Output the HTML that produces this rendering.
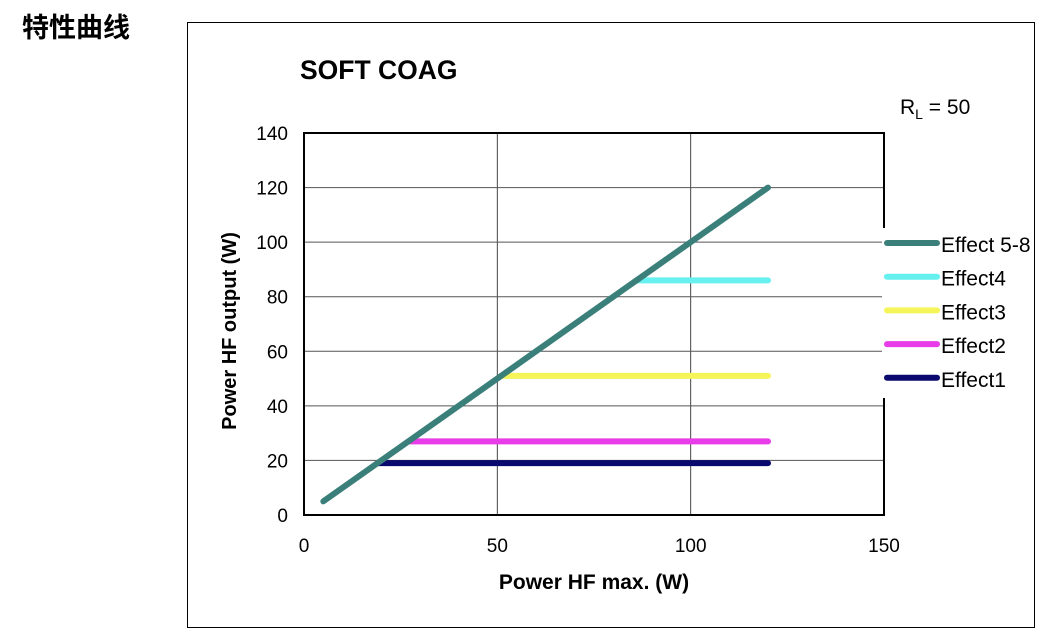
<!DOCTYPE html>
<html><head><meta charset="utf-8"><style>
body{margin:0;background:#fff;width:1053px;height:639px;overflow:hidden}
svg{display:block;font-family:"Liberation Sans","Noto Sans CJK SC",sans-serif}
</style></head><body>
<svg id="c" width="1053" height="639">
<text x="22" y="37" font-size="27" font-weight="bold">特性曲线</text>
<rect x="187.5" y="22.5" width="847" height="605" fill="none" stroke="#000" stroke-width="1"/>
<text x="300" y="79" font-size="26.5" font-weight="bold">SOFT COAG</text>
<text x="900" y="114" font-size="21">R<tspan font-size="14" dy="5">L</tspan><tspan dy="-5"> = 50</tspan></text>
<g id="grid"></g>
<g id="marks"></g>
<rect x="304" y="133" width="580" height="382" fill="none" stroke="#000" stroke-width="2"/>
<g id="axes"></g>
<text x="594" y="589" font-size="21" font-weight="bold" text-anchor="middle">Power HF max. (W)</text>
<text transform="translate(236,331) rotate(-90)" font-size="20" font-weight="bold" text-anchor="middle">Power HF output  (W)</text>
<rect x="882" y="228" width="150" height="170" fill="#fff"/>
<g id="legend"></g>
</svg>
<script>
const xTicks=[0,50,100,150];
const yTicks=[0,20,40,60,80,100,120,140];
const seriesNames=["Effect 5-8","Effect4","Effect3","Effect2","Effect1"];
const seriesColors=["#3a7f7a","#66f0f0","#f5f55a","#e83ce8","#0a0a6e"];
const diagX=[5,120];const diagY=[5,120];
const flatStart=[86,51,27,19];
const flatEnd=[120,120,120,120];
const flatLevel=[86,51,27,19];
const X=v=>304+v*580/150, Y=v=>515-v*382/140;
const NS="http://www.w3.org/2000/svg";
function mk(t,a,p){const e=document.createElementNS(NS,t);for(const k in a)e.setAttribute(k,a[k]);document.getElementById(p).appendChild(e);return e;}
xTicks.forEach(v=>{
 if(v>0&&v<150){const l=mk('line',{x1:X(v),x2:X(v),y1:133,y2:515,stroke:'#444','stroke-width':1},'grid');
 
 }
 const t=mk('text',{x:X(v),y:552,'font-size':19,'text-anchor':'middle'},'axes');t.textContent=v;
 
 
});
yTicks.forEach(v=>{
 if(v>0&&v<140){const l=mk('line',{x1:304,x2:884,y1:Y(v),y2:Y(v),stroke:'#555','stroke-width':1},'grid');
 
 }
 const t=mk('text',{x:288,y:Y(v)+7,'font-size':19,'text-anchor':'end'},'axes');t.textContent=v;
 
 
});
for(let i=flatStart.length-1;i>=0;i--){
 const l=mk('line',{x1:X(flatStart[i]),x2:X(flatEnd[i]),y1:Y(flatLevel[i]),y2:Y(flatLevel[i]),stroke:seriesColors[i+1],'stroke-width':6,'stroke-linecap':'round'},'marks');
 
 
}
const d=mk('line',{x1:X(diagX[0]),x2:X(diagX[1]),y1:Y(diagY[0]),y2:Y(diagY[1]),stroke:seriesColors[0],'stroke-width':6,'stroke-linecap':'round'},'marks');


seriesNames.forEach((n,i)=>{
 const y=243+i*33.7;
 const l=mk('line',{x1:887,x2:937,y1:y,y2:y,stroke:seriesColors[i],'stroke-width':6,'stroke-linecap':'round'},'legend');
 
 
 const t=mk('text',{x:941,y:y+9,'font-size':21},'legend');t.textContent=n;
 
 
});
</script>
</body></html>
